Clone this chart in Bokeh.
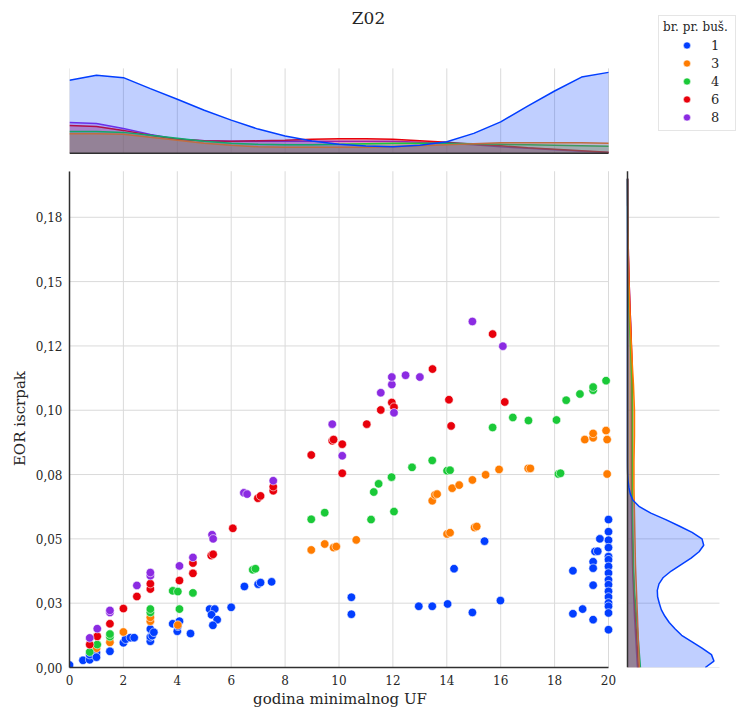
from bokeh.plotting import figure
from bokeh.models import Range1d, FixedTicker, Label, Legend, LegendItem, ColumnDataSource, Title
from bokeh.embed import file_html
from bokeh.resources import INLINE

FONT = "DejaVu Serif"
LEGEND_FONT = "'DejaVu Serif', serif"
TXT = "#262626"

# ---------------- data ----------------
HUES = ["1", "3", "4", "6", "8"]
COLORS = {"1": "#023eff", "3": "#ff7c00", "4": "#1ac938", "6": "#e8000b", "8": "#8b2be2"}

x_1 = [0.0, 0.5, 0.75, 0.75, 1.0, 1.0, 1.5, 2.0, 2.08, 2.26, 2.4, 3.0, 3.0, 3.07, 3.0, 3.13,
       3.83, 4.0, 4.08, 4.02, 4.49, 5.2, 5.39, 5.27, 5.48, 5.32, 6.0, 6.49, 7.0, 7.09, 7.5,
       10.46, 10.46, 12.96, 13.46, 14.03, 14.27, 14.95, 15.4, 15.99,
       18.68, 18.68, 19.04, 19.43, 19.43, 19.43, 19.43, 19.5, 19.6, 19.68,
       20.0, 20.0, 20.0, 20.0, 20.0, 20.0, 20.0, 20.0, 20.0, 20.0, 20.0, 20.0, 20.0, 20.0, 20.0, 20.0]
y_1 = [0.001, 0.0028, 0.003, 0.005, 0.0057, 0.004, 0.0063, 0.0096, 0.011, 0.0116, 0.0116, 0.0102, 0.0119, 0.0124, 0.015, 0.0137,
       0.017, 0.0141, 0.018, 0.016, 0.0132, 0.0227, 0.0227, 0.0205, 0.0186, 0.0164, 0.0234, 0.0315, 0.0324, 0.033, 0.0333,
       0.0273, 0.0207, 0.0238, 0.0238, 0.0247, 0.0384, 0.0214, 0.0491, 0.026,
       0.0376, 0.0209, 0.0227, 0.0411, 0.0386, 0.032, 0.0186, 0.0451, 0.0452, 0.05,
       0.0575, 0.0528, 0.0495, 0.0466, 0.0431, 0.0419, 0.0393, 0.0367, 0.0341, 0.0322, 0.0296, 0.0274, 0.0251, 0.0238, 0.0212, 0.0147]

x_3 = [1.0, 1.5, 2.0, 3.0, 3.0, 4.02, 8.97, 9.47, 9.8, 9.9, 10.64,
       13.46, 13.56, 13.64, 14.01, 14.12, 14.2, 14.46, 14.95, 15.03, 15.11, 15.44, 15.94, 17.02, 17.1,
       19.12, 19.43, 19.43, 19.91, 19.95, 19.95]
y_3 = [0.0075, 0.0098, 0.0138, 0.018, 0.0195, 0.0165, 0.0457, 0.048, 0.0466, 0.047, 0.0496,
       0.0648, 0.0671, 0.0674, 0.0519, 0.0524, 0.0697, 0.0709, 0.0729, 0.0544, 0.0548, 0.0749, 0.077, 0.0774, 0.0774,
       0.0886, 0.0893, 0.091, 0.0921, 0.0886, 0.0752]

x_4 = [0.75, 1.03, 1.5, 1.5, 3.0, 3.0, 3.83, 4.02, 4.08, 4.58, 6.8, 6.9, 8.97, 9.47,
       11.19, 11.29, 11.47, 11.95, 12.04, 12.71, 13.46, 14.01, 14.12,
       15.7, 16.45, 17.03, 18.07, 18.14, 18.22, 18.43, 18.94, 19.43, 19.43, 19.91]
y_4 = [0.006, 0.0089, 0.012, 0.013, 0.0214, 0.0227, 0.0298, 0.0295, 0.0227, 0.029, 0.038, 0.0384, 0.0576, 0.0602,
       0.0575, 0.0682, 0.0714, 0.074, 0.0606, 0.0778, 0.0805, 0.0765, 0.0767,
       0.0933, 0.0972, 0.096, 0.0962, 0.0752, 0.0755, 0.1039, 0.1063, 0.1078, 0.109, 0.1115]

x_6 = [0.75, 1.03, 1.5, 2.0, 2.5, 3.0, 3.0, 4.08, 4.58, 4.58, 5.26, 5.33, 6.06, 6.99, 7.09, 7.56, 7.56,
       8.97, 9.75, 9.8, 10.12, 10.12, 11.03, 11.55, 11.96, 12.04, 13.47, 14.08, 14.16, 15.7, 16.15]
y_6 = [0.0089, 0.0121, 0.017, 0.0229, 0.0276, 0.0305, 0.0326, 0.0338, 0.0366, 0.0406, 0.0435, 0.044, 0.0541, 0.0658, 0.0667, 0.0687, 0.0703,
       0.0826, 0.0881, 0.0886, 0.0868, 0.0755, 0.0946, 0.1001, 0.103, 0.1012, 0.116, 0.1041, 0.0939, 0.1296, 0.1032]

x_8 = [0.75, 1.03, 1.5, 1.5, 2.5, 3.0, 3.0, 4.08, 4.58, 5.29, 5.33, 6.47, 6.59, 7.56, 9.75, 10.12,
       11.55, 11.96, 11.96, 12.04, 12.47, 13.0, 14.95, 16.08]
y_8 = [0.0115, 0.0151, 0.0214, 0.0222, 0.0319, 0.0357, 0.0369, 0.0395, 0.0428, 0.0516, 0.05, 0.0679, 0.0674, 0.0726, 0.0946, 0.0823,
       0.1068, 0.11, 0.1129, 0.099, 0.1136, 0.1129, 0.1345, 0.1249]

SCATTER = {"1": (x_1, y_1), "3": (x_3, y_3), "4": (x_4, y_4), "6": (x_6, y_6), "8": (x_8, y_8)}

# marginal densities (relative units)
TOP_X = [0, 1, 2, 3, 4, 5, 6, 7, 8, 9, 10, 11, 12, 13, 14, 15, 16, 17, 18, 19, 20]
top_1 = [73.3, 78.4, 76.0, 65.0, 54.3, 43.3, 33.3, 24.3, 17.3, 12.3, 9.0, 7.3, 6.6, 8.0, 11.6, 20.0, 31.6, 47.3, 62.6, 76.6, 81.3]
top_3 = [19.5, 19.5, 19.0, 16.0, 13.0, 10.0, 8.0, 6.5, 6.0, 6.0, 6.0, 6.0, 6.5, 7.5, 8.5, 9.5, 10.5, 10.5, 10.5, 10.5, 10.0]
top_4 = [22.0, 22.0, 21.0, 18.0, 15.0, 12.0, 10.0, 9.0, 8.5, 8.5, 9.0, 9.5, 10.0, 10.0, 10.0, 9.5, 9.0, 8.5, 8.0, 7.5, 7.0]
top_6 = [28.0, 27.0, 23.0, 18.0, 14.0, 12.5, 12.0, 12.5, 13.0, 14.0, 14.5, 14.5, 14.0, 12.5, 11.0, 9.0, 7.5, 5.5, 4.0, 2.5, 1.0]
top_8 = [31.0, 30.0, 25.0, 19.0, 14.0, 12.5, 12.0, 12.0, 12.0, 12.0, 12.0, 12.0, 12.0, 11.0, 10.0, 8.5, 6.5, 5.0, 3.5, 2.0, 0.8]
TOP = {"1": top_1, "3": top_3, "4": top_4, "6": top_6, "8": top_8}

RIGHT_Y_BLUE = [0, 0.0025, 0.005, 0.0075, 0.01, 0.0125, 0.015, 0.0175, 0.02, 0.0225, 0.025, 0.0275, 0.03,
                0.0325, 0.035, 0.0375, 0.04, 0.0425, 0.045, 0.0475, 0.05, 0.0525, 0.055, 0.0575, 0.06,
                0.0625, 0.065, 0.0675, 0.07, 0.0725, 0.075, 0.0775, 0.08, 0.19]
right_1 = [78.3, 87.0, 84.5, 75.0, 65.0, 54.5, 48.0, 42.0, 37.5, 34.0, 32.0, 30.3, 30.0,
           31.7, 36.0, 44.0, 54.0, 64.0, 72.0, 76.7, 75.0, 65.0, 52.0, 38.5, 23.5,
           12.0, 5.5, 2.8, 1.4, 0.6, 0.2, 0.05, 0.0, 0.0]
RIGHT_Y = [0, 0.01, 0.02, 0.03, 0.04, 0.05, 0.06, 0.07, 0.08, 0.09, 0.1, 0.11, 0.12, 0.13, 0.14,
           0.15, 0.16, 0.17, 0.18, 0.19]
right_3 = [12, 11, 10, 9, 8, 7.5, 7, 6.5, 6.5, 7, 7, 6, 4.5, 3.3, 2.2, 1.4, 0.8, 0.4, 0.2, 0.1]
right_4 = [13, 11, 9, 7, 6, 5.5, 5, 5, 5, 5, 5, 4.5, 3.5, 2.5, 1.5, 0.8, 0.4, 0.2, 0.1, 0]
right_6 = [11, 9.5, 8, 6.5, 5.5, 5, 5, 5, 5, 5, 5, 5, 4.5, 3.5, 2.5, 1.6, 0.9, 0.5, 0.2, 0.1]
right_8 = [10, 8.5, 7, 6, 5, 4.5, 4, 4, 4, 4, 4, 4, 4, 3.5, 2.5, 1.6, 0.9, 0.5, 0.2, 0.1]
RIGHT = {"1": (RIGHT_Y_BLUE, right_1), "3": (RIGHT_Y, right_3), "4": (RIGHT_Y, right_4),
         "6": (RIGHT_Y, right_6), "8": (RIGHT_Y, right_8)}

X_TICKS = [0, 2, 4, 6, 8, 10, 12, 14, 16, 18, 20]
Y_TICKS = [0, 0.025, 0.05, 0.075, 0.1, 0.125, 0.15, 0.175]
Y_TICK_LABELS = ["0,00", "0,03", "0,05", "0,08", "0,10", "0,12", "0,15", "0,18"]

TITLE = "Z02"
X_LABEL = "godina minimalnog UF"
Y_LABEL = "EOR iscrpak"
LEGEND_TITLE = "br. pr. buš."

X_MAX = 20          # main x limit
Y_MAX = 0.1929      # main y limit
TOP_MAX = 85.3      # top marginal density limit
RIGHT_MAX = 92.6    # right marginal density limit

# ---------------- geometry (pixels) ----------------
W, H = 736, 707
BORDER_L, BORDER_B = 69, 39
FRAME_W, FRAME_H = W - BORDER_L, H - BORDER_B
MAIN_W, MAIN_H = 539, 497          # main panel size inside the frame
TOP_BASE = 515                     # top marginal baseline, px above frame bottom
TOP_H = 85                         # top marginal height, px
RIGHT_LEFT = 558                   # right marginal left edge, px from frame left
RIGHT_W = 92                       # right marginal width, px
LABEL_PX = 15                      # axis label font size

GRID = "#dadada"
SPINE = "#303030"

x_end = X_MAX * FRAME_W / MAIN_W
y_end = Y_MAX * FRAME_H / MAIN_H
top_per_px = TOP_MAX / TOP_H
right_per_px = RIGHT_MAX / RIGHT_W

p = figure(width=W, height=H, x_range=Range1d(0, x_end), y_range=Range1d(0, y_end),
           output_backend="svg", toolbar_location=None,
           min_border_left=BORDER_L, min_border_bottom=BORDER_B, min_border_top=0, min_border_right=0)
p.extra_y_ranges = {"top": Range1d(-TOP_BASE * top_per_px, (FRAME_H - TOP_BASE) * top_per_px)}
p.extra_x_ranges = {"right": Range1d(-RIGHT_LEFT * right_per_px, (FRAME_W - RIGHT_LEFT) * right_per_px)}
p.outline_line_color = None
p.grid.visible = False
p.background_fill_color = "white"
p.border_fill_color = "white"

# ---- grids (drawn as segments within each panel) ----
nx, ny = len(X_TICKS), len(Y_TICKS)
p.segment(x0=X_TICKS, y0=[0] * nx, x1=X_TICKS, y1=[Y_MAX] * nx, line_color=GRID, line_width=1)
p.segment(x0=[0] * ny, y0=Y_TICKS, x1=[X_MAX] * ny, y1=Y_TICKS, line_color=GRID, line_width=1)
p.segment(x0=X_TICKS, y0=[0] * nx, x1=X_TICKS, y1=[TOP_MAX] * nx, line_color=GRID, line_width=1,
          y_range_name="top")
p.segment(x0=[0] * ny, y0=Y_TICKS, x1=[RIGHT_MAX] * ny, y1=Y_TICKS, line_color=GRID, line_width=1,
          x_range_name="right")

# ---- top marginal ----
for h in reversed(HUES):
    src = ColumnDataSource(dict(x=TOP_X, y=TOP[h]))
    p.varea(x="x", y1=0, y2="y", source=src, fill_color=COLORS[h], fill_alpha=0.25, y_range_name="top")
    p.line(x="x", y="y", source=src, line_color=COLORS[h], line_width=1.5, y_range_name="top")
p.segment(x0=[0], y0=[0], x1=[X_MAX], y1=[0], line_color=SPINE, line_width=1.5, y_range_name="top")

# ---- right marginal ----
for h in reversed(HUES):
    ys, ws = RIGHT[h]
    src = ColumnDataSource(dict(y=ys, w=ws))
    p.harea(y="y", x1=0, x2="w", source=src, fill_color=COLORS[h], fill_alpha=0.25, x_range_name="right")
    p.line(x="w", y="y", source=src, line_color=COLORS[h], line_width=1.5, x_range_name="right")
p.segment(x0=[0], y0=[0], x1=[0], y1=[Y_MAX], line_color=SPINE, line_width=1.5, x_range_name="right")

# ---- main scatter ----
renderers = {}
for h in HUES:
    xs, ys = SCATTER[h]
    renderers[h] = p.scatter(xs, ys, size=8.5, fill_color=COLORS[h], line_color="white", line_width=0.6)

# ---- axes ----
p.xaxis.ticker = FixedTicker(ticks=X_TICKS)
p.yaxis.ticker = FixedTicker(ticks=Y_TICKS)
p.yaxis.major_label_overrides = {t: l for t, l in zip(Y_TICKS, Y_TICK_LABELS)}
p.xaxis.bounds = (0, X_MAX)
p.yaxis.bounds = (0, Y_MAX)
for ax in (p.xaxis[0], p.yaxis[0]):
    ax.major_tick_line_color = None
    ax.minor_tick_line_color = None
    ax.major_tick_in = 0
    ax.major_tick_out = 0
    ax.minor_tick_in = 0
    ax.minor_tick_out = 0
    ax.axis_line_color = SPINE
    ax.axis_line_width = 1.5
    ax.major_label_text_font = FONT
    ax.major_label_text_font_size = "12px"
    ax.major_label_text_color = TXT
p.xaxis.major_label_standoff = 7
p.yaxis.major_label_standoff = 7

# axis titles, centred on the main panel (not on the whole frame)
x_text_w = 11.46 * LABEL_PX        # approx. width of X_LABEL in DejaVu Serif (em units)
y_text_w = 6.28 * LABEL_PX         # approx. width of Y_LABEL
p.add_layout(Title(text=X_LABEL, align="left", offset=MAIN_W / 2 - x_text_w / 2, standoff=0,
                   text_font=FONT, text_font_size=f"{LABEL_PX}px", text_font_style="normal",
                   text_color=TXT), "below")
p.add_layout(Title(text=Y_LABEL, align="left", offset=MAIN_H / 2 - y_text_w / 2, standoff=8,
                   text_font=FONT, text_font_size=f"{LABEL_PX}px", text_font_style="normal",
                   text_color=TXT), "left")

# ---- title ----
p.add_layout(Label(x=299, y=FRAME_H - 18, x_units="screen", y_units="screen", text=TITLE,
                   text_align="center", text_baseline="middle", text_font=FONT,
                   text_font_size="17px", text_color=TXT))

# ---- legend ----
items = [LegendItem(label=h, renderers=[renderers[h]]) for h in HUES]
legend = Legend(items=items, location=(589, FRAME_H - 132), title=LEGEND_TITLE,
                title_text_font=LEGEND_FONT, title_text_font_size="12px", title_text_font_style="normal",
                title_text_color=TXT, title_standoff=2,
                label_text_font=LEGEND_FONT, label_text_font_size="13px", label_text_color=TXT,
                glyph_width=47, glyph_height=18, label_height=18, label_standoff=1, spacing=0,
                padding=4, margin=0, border_line_color="#cccccc", border_line_width=1,
                background_fill_color="white", background_fill_alpha=1.0)
p.add_layout(legend)

open("out.html", "w").write(file_html(p, INLINE))
